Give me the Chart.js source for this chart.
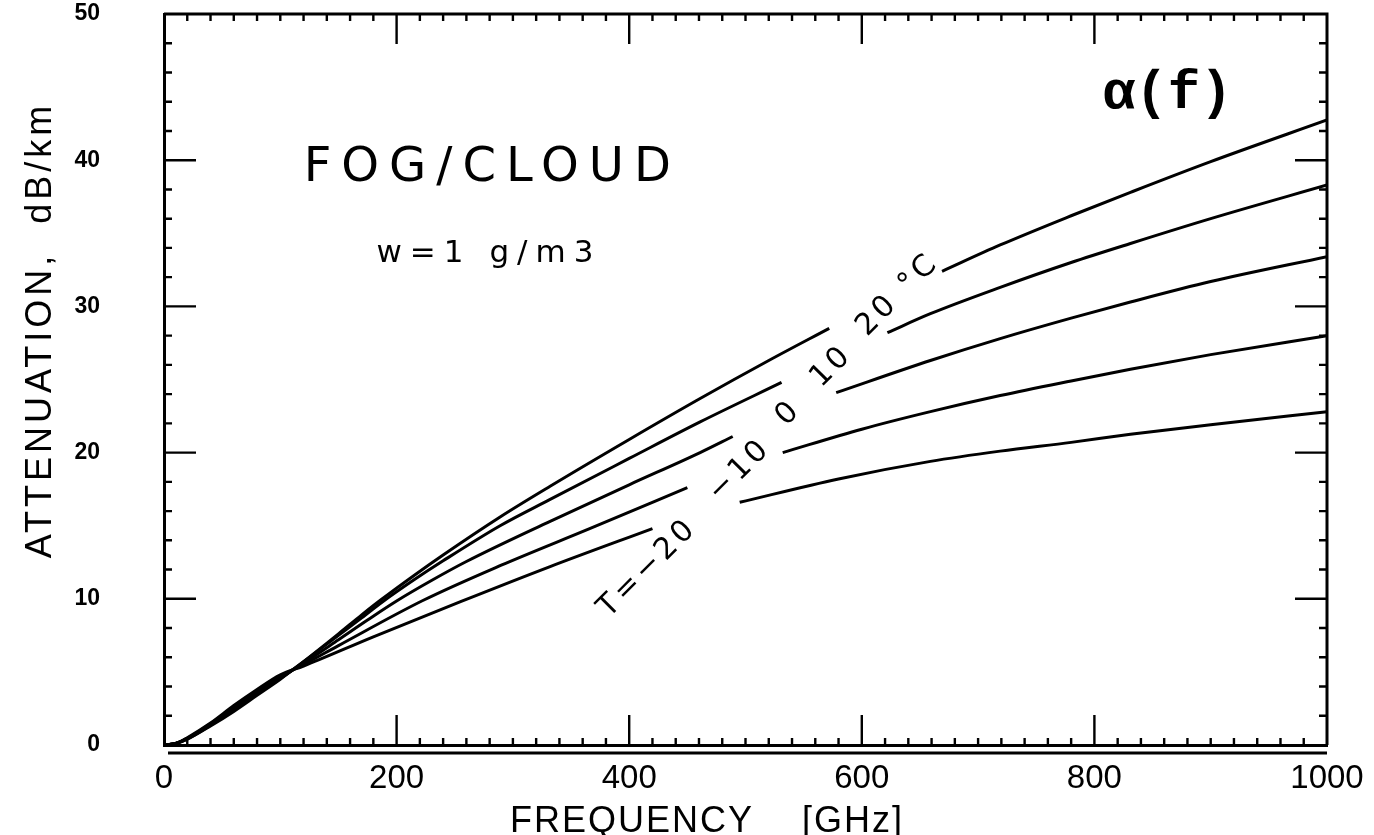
<!DOCTYPE html>
<html>
<head>
<meta charset="utf-8">
<title>Fog/cloud attenuation</title>
<script src="https://cdn.jsdelivr.net/npm/chart.js@4.4.1/dist/chart.umd.min.js"></script>
<style>
  html, body { margin: 0; padding: 0; background: #fff; }
  canvas { display: block; }
</style>
</head>
<body>
<canvas id="fogChart" width="1374" height="835"></canvas>
<script>
// frequency (GHz) / attenuation (dB/km), null = gap where the label sits
const freqT20 = [0, 10, 20, 40, 60, 80, 100, 120, 150, 170, 186, 215, 240, 289, 332, 400, 461, 520, 572, 620, 669, 719, 780, 831, 900, 1000];
const attT20  = [0, 0.1, 0.4, 1.3, 2.3, 3.4, 4.5, 5.7, 7.6, 8.9, 9.9, 11.6, 13.0, 15.6, 17.7, 20.9, 23.7, 26.3, 28.5, null, 32.4, 34.2, 36.2, 37.8, 39.9, 42.75];

const freqT10 = [0, 10, 20, 40, 60, 80, 100, 120, 150, 170, 188, 215, 240, 289, 332, 400, 461, 531, 575, 622, 659, 719, 780, 831, 900, 1000];
const attT10  = [0, 0.1, 0.4, 1.35, 2.4, 3.5, 4.55, 5.7, 7.5, 8.7, 9.8, 11.3, 12.6, 15.0, 16.8, 19.6, 22.1, 24.8, null, 28.2, 29.5, 31.3, 33.0, 34.3, 36.0, 38.3];

const freqT0 = [0, 10, 20, 40, 60, 80, 100, 120, 150, 175, 200, 230, 260, 332, 400, 461, 489, 535, 578, 659, 719, 780, 831, 900, 1000];
const attT0  = [0, 0.1, 0.45, 1.4, 2.5, 3.6, 4.6, 5.6, 7.2, 8.55, 9.85, 11.25, 12.55, 15.3, 17.8, 20.0, 21.1, null, 24.1, 26.3, 27.8, 29.2, 30.3, 31.7, 33.4];

const freqTm10 = [0, 10, 20, 40, 60, 80, 100, 120, 150, 223, 290, 366, 450, 490, 532, 600, 659, 719, 780, 831, 900, 1000];
const attTm10  = [0, 0.1, 0.45, 1.45, 2.6, 3.7, 4.7, 5.5, 6.8, 9.9, 12.3, 14.8, 17.6, null, 20.0, 21.6, 22.8, 23.9, 24.9, 25.7, 26.7, 28.0];

const freqTm20 = [0, 10, 20, 40, 60, 80, 100, 120, 180, 255, 332, 420, 458, 495, 580, 659, 719, 780, 831, 900, 1000];
const attTm20  = [0, 0.1, 0.5, 1.5, 2.7, 3.8, 4.8, 5.4, 7.4, 9.8, 12.2, 14.8, null, 16.6, 18.2, 19.4, 20.1, 20.7, 21.25, 21.9, 22.8];

const xTickLabels = [0, 200, 400, 600, 800, 1000];
const yTickLabels = [0, 10, 20, 30, 40, 50];

const curveLabels = ['T=\u221220', '\u221210', '0', '10', '20 \u00b0C'];
// where each curve label sits, in data units (GHz, dB/km)
const curveLabelFreq = [415, 494, 536, 573, 630];
const curveLabelAtt  = [12.0, 18.7, 22.6, 25.8, 30.7];

function pairs(xs, ys) {
  return xs.map((f, i) => ({ x: f, y: ys[i] }));
}

function curve(label, xs, ys) {
  return {
    label: label,
    data: pairs(xs, ys),
    borderColor: '#000',
    borderWidth: 3,
    pointRadius: 0,
    fill: false,
    cubicInterpolationMode: 'monotone',
    spanGaps: false
  };
}

// text with optional letter spacing + rotation
function drawText(ctx, text, px, py, font, spacing, angle, baseline) {
  ctx.save();
  ctx.translate(px, py);
  ctx.rotate(angle || 0);
  ctx.font = font;
  ctx.letterSpacing = (spacing || 0) + 'px';
  ctx.textAlign = 'center';
  ctx.textBaseline = baseline || 'middle';
  ctx.fillStyle = '#000';
  ctx.fillText(text, (spacing || 0) / 2, 0);
  ctx.restore();
}

// closed frame, inward ticks on all four sides, doubled bottom line, texts
const framePlugin = {
  id: 'framePlugin',
  afterDraw(chart) {
    const { ctx, chartArea: a, scales: { x, y } } = chart;
    ctx.save();
    ctx.strokeStyle = '#000';
    ctx.lineCap = 'butt';

    ctx.lineWidth = 3;
    ctx.beginPath();
    ctx.moveTo(a.left, a.top);
    ctx.lineTo(a.right, a.top);
    ctx.lineTo(a.right, a.bottom);
    ctx.moveTo(a.left + 4, a.bottom + 8);
    ctx.lineTo(a.right, a.bottom + 8);
    ctx.stroke();

    ctx.lineWidth = 2.4;
    ctx.beginPath();
    for (let v = 20; v < 1000; v += 20) {
      const px = x.getPixelForValue(v);
      const len = v % 200 === 0 ? 30 : 7;
      ctx.moveTo(px, a.bottom);
      ctx.lineTo(px, a.bottom - len);
      ctx.moveTo(px, a.top);
      ctx.lineTo(px, a.top + len);
    }
    for (let v = 2; v < 50; v += 2) {
      const py = y.getPixelForValue(v);
      const len = v % 10 === 0 ? 32 : 8;
      ctx.moveTo(a.left, py);
      ctx.lineTo(a.left + len, py);
      ctx.moveTo(a.right, py);
      ctx.lineTo(a.right - len, py);
    }
    ctx.stroke();
    ctx.restore();

    // axis titles
    drawText(ctx, 'FREQUENCY    [GHz]', a.left + 542, a.bottom + 87, '36px "Liberation Sans"', 2, 0, 'alphabetic');
    drawText(ctx, 'ATTENUATION,  dB/km', 41, a.top + 318, '36px "Liberation Sans"', 4, -Math.PI / 2);

    // annotations
    drawText(ctx, 'FOG/CLOUD', x.getPixelForValue(278), y.getPixelForValue(39.4), '48px "DejaVu Sans"', 10, 0);
    drawText(ctx, 'w=1 g/m3', x.getPixelForValue(276), y.getPixelForValue(33.6), '31px "DejaVu Sans"', 8, 0);
    drawText(ctx, '\u03b1(f)', x.getPixelForValue(863), y.getPixelForValue(44.5), 'bold 54px "Liberation Mono"', 0, 0);

    curveLabels.forEach((t, i) => {
      drawText(ctx, t, x.getPixelForValue(curveLabelFreq[i]), y.getPixelForValue(curveLabelAtt[i]),
        '30px "DejaVu Sans"', 4, -Math.PI / 4);
    });
  }
};

const ctx = document.getElementById('fogChart').getContext('2d');
new Chart(ctx, {
  type: 'line',
  data: {
    datasets: [
      curve('20 °C', freqT20, attT20),
      curve('10 °C', freqT10, attT10),
      curve('0 °C', freqT0, attT0),
      curve('-10 °C', freqTm10, attTm10),
      curve('-20 °C', freqTm20, attTm20)
    ]
  },
  options: {
    responsive: false,
    animation: false,
    layout: { padding: { top: 14, right: 47, left: 0, bottom: 0 } },
    plugins: {
      legend: { display: false },
      tooltip: { enabled: false }
    },
    scales: {
      x: {
        type: 'linear',
        min: 0,
        max: 1000,
        grid: { display: false, drawTicks: false },
        border: { display: true, color: '#000', width: 3 },
        afterBuildTicks(scale) {
          scale.ticks = xTickLabels.map(v => ({ value: v }));
        },
        afterFit(scale) {
          scale.height = 90;
          scale.paddingLeft = 0;
          scale.paddingRight = 0;
        },
        ticks: {
          autoSkip: false,
          maxRotation: 0,
          padding: 14,
          color: '#000',
          font: { family: 'Liberation Sans', size: 33 },
          callback: v => String(v)
        }
      },
      y: {
        type: 'linear',
        min: 0,
        max: 50,
        grid: { display: false, drawTicks: false },
        border: { display: true, color: '#000', width: 3 },
        afterBuildTicks(scale) {
          scale.ticks = yTickLabels.map(v => ({ value: v }));
        },
        afterFit(scale) {
          scale.width = 164;
          scale.paddingTop = 0;
          scale.paddingBottom = 0;
        },
        ticks: {
          padding: 64,
          color: '#000',
          font: { family: 'Liberation Sans', size: 23, weight: 'bold' },
          callback: v => String(v)
        }
      }
    }
  },
  plugins: [framePlugin]
});
</script>
</body>
</html>
